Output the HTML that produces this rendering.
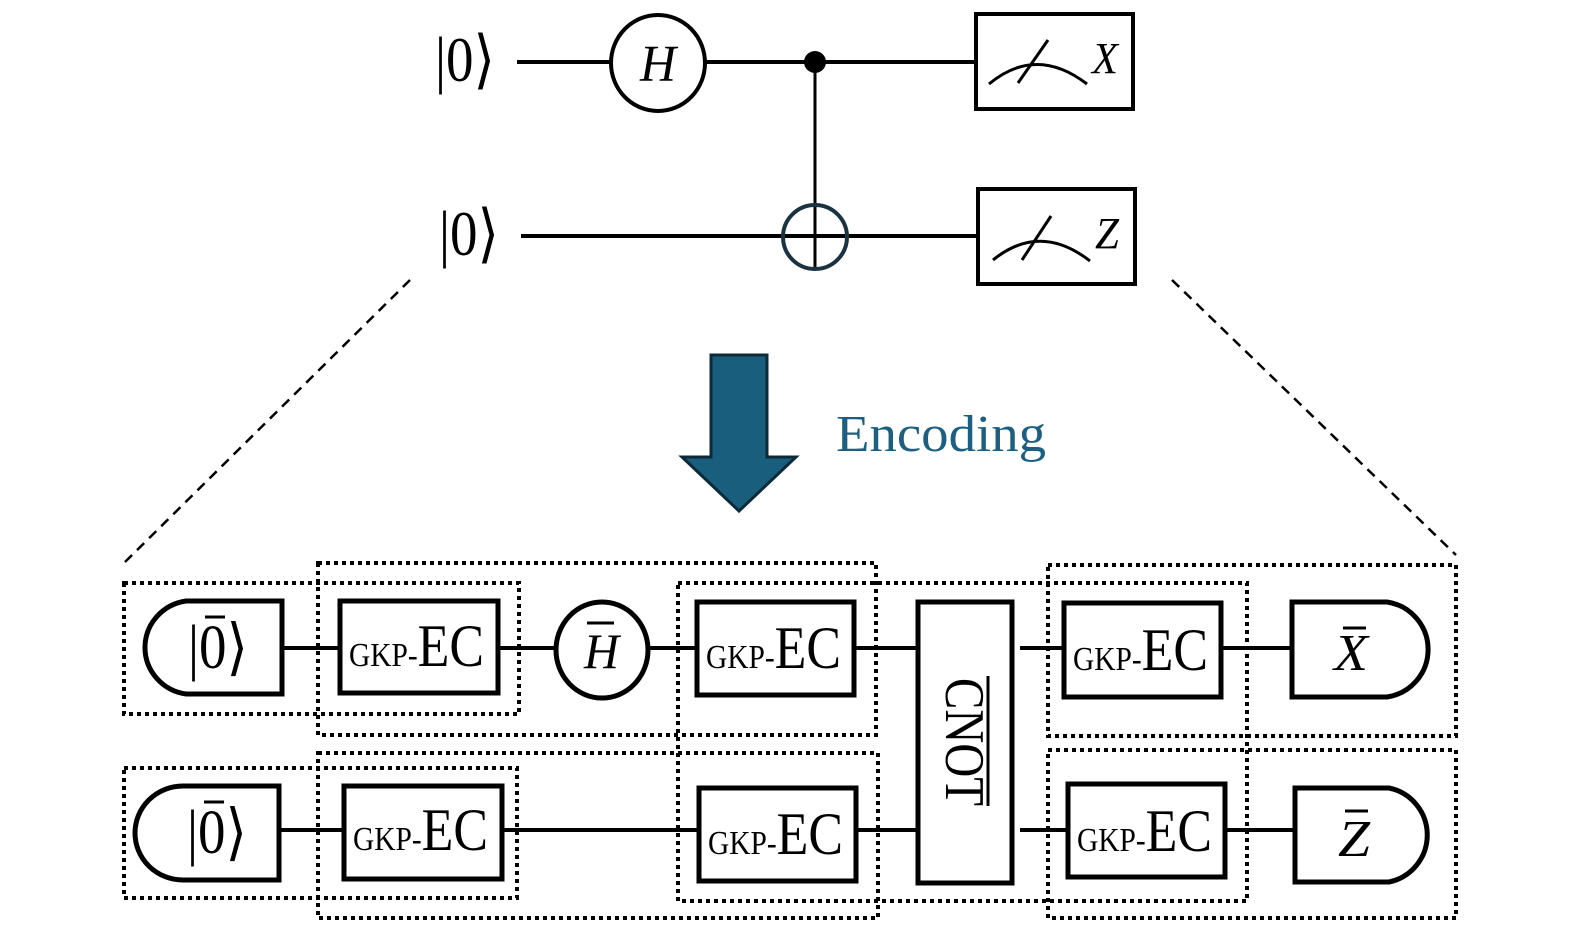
<!DOCTYPE html>
<html><head><meta charset="utf-8"><style>
html,body{margin:0;padding:0;background:#fff;}
svg{display:block;}
text{font-family:"Liberation Serif",serif;}
</style></head><body>
<svg width="1578" height="945" viewBox="0 0 1578 945" xmlns="http://www.w3.org/2000/svg">
<g stroke="#000" fill="none" stroke-width="4">
  <line x1="517" y1="62" x2="975" y2="62"/>
  <line x1="521" y1="236" x2="977" y2="236"/>
  <ellipse cx="658" cy="63" rx="47" ry="48" fill="#fff"/>
  <line x1="815" y1="62" x2="815" y2="268" stroke-width="3"/>
  <ellipse cx="815" cy="237" rx="32" ry="32" stroke="#1a3340"/>
  <rect x="976" y="14" width="157" height="95" fill="#fff"/>
  <rect x="978" y="189" width="157" height="95" fill="#fff"/>
  <path d="M989 84 Q1036 45 1087 84" stroke-width="3"/>
  <line x1="1018" y1="83" x2="1048" y2="40" stroke-width="3"/>
  <path d="M993 260 Q1040 222 1090 261" stroke-width="3"/>
  <line x1="1022" y1="260" x2="1051" y2="216" stroke-width="3"/>
</g>
<circle cx="815" cy="62" r="11" fill="#000"/>
<text x="435" y="81" font-size="64" textLength="60" lengthAdjust="spacingAndGlyphs">|0⟩</text>
<text x="439" y="255" font-size="64" textLength="60" lengthAdjust="spacingAndGlyphs">|0⟩</text>
<text x="640" y="81" font-size="52" font-style="italic" textLength="36" lengthAdjust="spacingAndGlyphs">H</text>
<text x="1092" y="73" font-size="44" font-style="italic" textLength="26" lengthAdjust="spacingAndGlyphs">X</text>
<text x="1095" y="248" font-size="44" font-style="italic" textLength="24" lengthAdjust="spacingAndGlyphs">Z</text>

<line x1="410" y1="280" x2="125" y2="562" stroke="#000" stroke-width="2.5" stroke-dasharray="10,7"/>
<line x1="1172" y1="280" x2="1456" y2="555" stroke="#000" stroke-width="2.5" stroke-dasharray="10,7"/>

<polygon points="711,355 767,355 767,457 796,457 739,511 682,457 711,457" fill="#1a5e7e" stroke="#0d2a38" stroke-width="3"/>
<text x="836" y="451" font-size="52" fill="#1c5f80" textLength="210" lengthAdjust="spacingAndGlyphs">Encoding</text>

<g stroke="#000" fill="none" stroke-width="4" stroke-dasharray="4,4">
  <rect x="124" y="583" width="395" height="131"/>
  <rect x="318" y="563" width="558" height="172"/>
  <rect x="678" y="583" width="569" height="318"/>
  <rect x="1048" y="565" width="408" height="171"/>
  <rect x="124" y="768" width="393" height="130"/>
  <rect x="318" y="753" width="560" height="165"/>
  <rect x="1048" y="750" width="408" height="168"/>
</g>

<g stroke="#000" stroke-width="4">
  <line x1="283" y1="648" x2="922" y2="648"/>
  <line x1="1020" y1="648" x2="1300" y2="648"/>
  <line x1="280" y1="830" x2="922" y2="830"/>
  <line x1="1020" y1="830" x2="1300" y2="830"/>
</g>

<g stroke="#000" stroke-width="5" fill="#fff">
  <path d="M282 601 L186 601 A48 47 0 0 0 186 694 L282 694 Z"/>
  <path d="M279 786 L183 786 A48 47 0 0 0 183 880 L279 880 Z"/>
  <rect x="340" y="601" width="158" height="92"/>
  <rect x="344" y="786" width="158" height="93"/>
  <ellipse cx="602" cy="650" rx="46" ry="48"/>
  <rect x="697" y="602" width="157" height="93"/>
  <rect x="699" y="788" width="157" height="93"/>
  <rect x="918" y="602" width="94" height="281"/>
  <rect x="1064" y="603" width="157" height="94"/>
  <rect x="1068" y="784" width="157" height="93"/>
  <path d="M1292 602 L1387 602 A48 48 0 0 1 1387 697 L1292 697 Z"/>
  <path d="M1295 788 L1389 788 A48 48 0 0 1 1389 882 L1295 882 Z"/>
</g>

<text x="188" y="668" font-size="62" textLength="60" lengthAdjust="spacingAndGlyphs">|0⟩</text>
<text x="187" y="853" font-size="62" textLength="60" lengthAdjust="spacingAndGlyphs">|0⟩</text>
<line x1="205" y1="617" x2="225" y2="617" stroke="#000" stroke-width="3"/>
<line x1="204" y1="802" x2="224" y2="802" stroke="#000" stroke-width="3"/>

<text x="349" y="666" textLength="135" lengthAdjust="spacingAndGlyphs"><tspan font-size="34">GKP-</tspan><tspan font-size="60">EC</tspan></text>
<text x="353" y="850" textLength="135" lengthAdjust="spacingAndGlyphs"><tspan font-size="34">GKP-</tspan><tspan font-size="60">EC</tspan></text>
<text x="706" y="668" textLength="135" lengthAdjust="spacingAndGlyphs"><tspan font-size="34">GKP-</tspan><tspan font-size="60">EC</tspan></text>
<text x="708" y="854" textLength="135" lengthAdjust="spacingAndGlyphs"><tspan font-size="34">GKP-</tspan><tspan font-size="60">EC</tspan></text>
<text x="1073" y="670" textLength="135" lengthAdjust="spacingAndGlyphs"><tspan font-size="34">GKP-</tspan><tspan font-size="60">EC</tspan></text>
<text x="1077" y="851" textLength="135" lengthAdjust="spacingAndGlyphs"><tspan font-size="34">GKP-</tspan><tspan font-size="60">EC</tspan></text>

<text x="584" y="668" font-size="50" font-style="italic" textLength="35" lengthAdjust="spacingAndGlyphs">H</text>
<line x1="587" y1="623" x2="614" y2="623" stroke="#000" stroke-width="3"/>

<text x="1334" y="670" font-size="52" font-style="italic" textLength="34" lengthAdjust="spacingAndGlyphs">X</text>
<line x1="1343" y1="628" x2="1366" y2="628" stroke="#000" stroke-width="3"/>
<text x="1338" y="856" font-size="52" font-style="italic" textLength="32" lengthAdjust="spacingAndGlyphs">Z</text>
<line x1="1345" y1="811" x2="1368" y2="811" stroke="#000" stroke-width="3"/>

<text transform="translate(946,678) rotate(90)" font-size="56" textLength="128" lengthAdjust="spacingAndGlyphs">CNOT</text>
<line x1="988" y1="676" x2="988" y2="806" stroke="#000" stroke-width="3"/>
</svg>
</body></html>
